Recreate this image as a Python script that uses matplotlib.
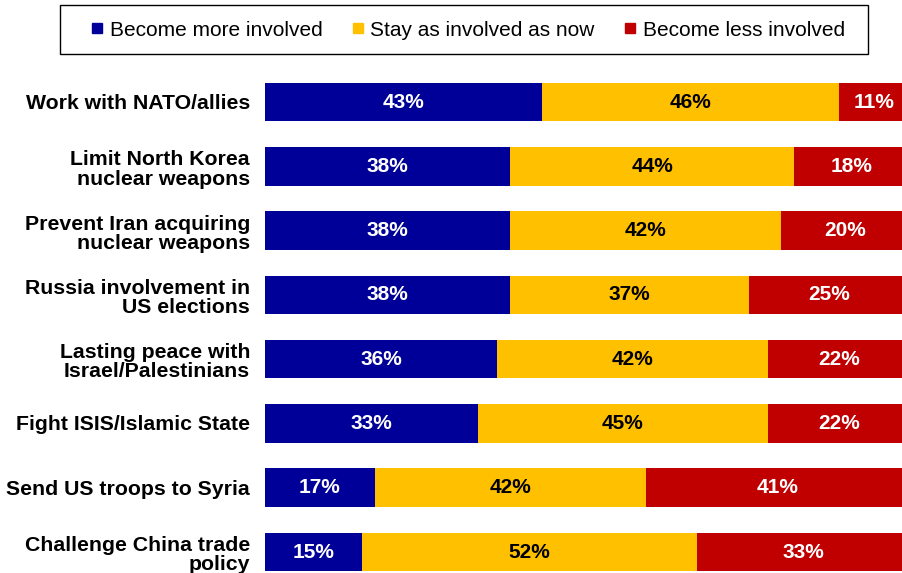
import matplotlib
matplotlib.use("Agg")
import matplotlib.pyplot as plt
from matplotlib.lines import Line2D
from matplotlib.patches import Rectangle
from matplotlib.transforms import offset_copy

plt.rcParams['font.family'] = ['Liberation Sans', 'DejaVu Sans']

categories = [
    "Work with NATO/allies",
    "Limit North Korea\nnuclear weapons",
    "Prevent Iran acquiring\nnuclear weapons",
    "Russia involvement in\nUS elections",
    "Lasting peace with\nIsrael/Palestinians",
    "Fight ISIS/Islamic State",
    "Send US troops to Syria",
    "Challenge China trade\npolicy",
]
more_involved = [43, 38, 38, 38, 36, 33, 17, 15]
same_involved = [46, 44, 42, 37, 42, 45, 42, 52]
less_involved = [11, 18, 20, 25, 22, 22, 41, 33]
series_names = ["Become more involved", "Stay as involved as now", "Become less involved"]

colors = ["#000099", "#FFC000", "#C00000"]
text_colors = ["white", "black", "white"]

W, H = 902, 573
PX_PER_PCT = 6.45
fig = plt.figure(figsize=(W / 100, H / 100), dpi=100)

# plotting area: x from 265px to the right edge, y from 70px to the bottom edge
ax = fig.add_axes([265 / W, 0, 1 - 265 / W, (H - 70) / H])
ax.set_xlim(0, (W - 265) / PX_PER_PCT)
ax.set_ylim(7 + (H - 552) / 64.3, -0.5)
ax.axis("off")

ypos = list(range(len(categories)))
left = [0] * len(categories)
for vals, col, tcol in zip([more_involved, same_involved, less_involved], colors, text_colors):
    ax.barh(ypos, vals, left=left, height=0.6, color=col, edgecolor="none")
    for y, v, l in zip(ypos, vals, left):
        ax.text(l + v / 2, y, f"{v}%", ha="center", va="center",
                color=tcol, fontsize=15, fontweight="bold")
    left = [a + b for a, b in zip(left, vals)]

label_tf = offset_copy(ax.transData, fig=fig, x=0, y=-1.0, units="points")
for y, cat in zip(ypos, categories):
    dy = -1.2 if "\n" in cat else 0.0
    ax.text(-15 / PX_PER_PCT, y, cat, ha="right", va="center",
            transform=offset_copy(label_tf, fig=fig, x=0, y=dy, units="points"),
            fontsize=15.3, fontweight="bold", color="black", linespacing=1.02,
            clip_on=False)

# legend box
fig.patches.append(Rectangle((60 / W, 1 - 54 / H), 808 / W, 49 / H,
                             transform=fig.transFigure, fill=False,
                             edgecolor="black", linewidth=1.0))
handles = [Line2D([], [], marker="s", linestyle="none", markersize=7.5,
                  markerfacecolor=c, markeredgecolor=c) for c in colors]
leg = fig.legend(handles, series_names, loc="center", ncol=3,
                 bbox_to_anchor=(468 / W, 1 - 30 / H), frameon=False,
                 fontsize=15, handlelength=0.6, handletextpad=0.3, columnspacing=1.4,
                 borderpad=0, borderaxespad=0)

fig.savefig("out.png", dpi=100)
